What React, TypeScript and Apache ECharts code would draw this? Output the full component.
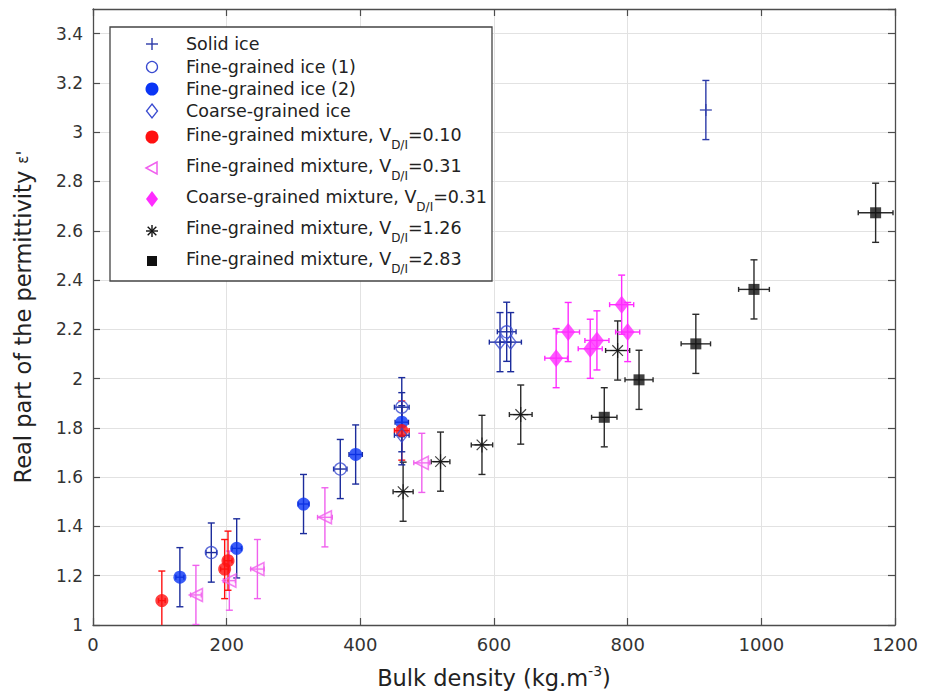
import { useEffect, useRef } from 'react';
import * as echarts from 'echarts';

const FONT = '"DejaVu Sans", sans-serif';

// Axis ranges / ticks
const X_MIN = 0;
const X_MAX = 1200;
const X_STEP = 200;
const Y_MIN = 1;
const Y_MAX = 3.5;
const Y_STEP = 0.2;

// ---- Data (bulk density kg/m3, permittivity, errors) ----
const solidIceX = [917];
const solidIceY = [3.09];
const solidIceEy = [0.12];
const solidIceEx = [0];

const fineIce1X = [177, 370, 462, 619];
const fineIce1Y = [1.294, 1.633, 1.884, 2.19];
const fineIce1Ey = [0.12, 0.12, 0.12, 0.12];
const fineIce1Ex = [8, 10, 11, 14];

const fineIce2X = [130, 215, 315, 393, 462];
const fineIce2Y = [1.194, 1.311, 1.491, 1.692, 1.823];
const fineIce2Ey = [0.12, 0.12, 0.12, 0.12, 0.12];
const fineIce2Ex = [6, 7, 8, 10, 10];

const coarseIceX = [462, 609, 625];
const coarseIceY = [1.77, 2.148, 2.148];
const coarseIceEy = [0.12, 0.12, 0.12];
const coarseIceEx = [11, 16, 16];

const mix010X = [103, 197, 202, 462];
const mix010Y = [1.099, 1.227, 1.261, 1.789];
const mix010Ey = [0.12, 0.12, 0.12, 0.12];
const mix010Ex = [5, 6, 6, 11];

const mix031X = [154, 204, 246, 347, 492];
const mix031Y = [1.122, 1.18, 1.227, 1.437, 1.658];
const mix031Ey = [0.12, 0.12, 0.12, 0.12, 0.12];
const mix031Ex = [8, 9, 10, 11, 12];

const coarseMix031X = [693, 711, 744, 754, 791, 800];
const coarseMix031Y = [2.083, 2.189, 2.121, 2.155, 2.3, 2.189];
const coarseMix031Ey = [0.12, 0.12, 0.12, 0.12, 0.12, 0.12];
const coarseMix031Ex = [17, 17, 18, 18, 18, 18];

const mix126X = [464, 520, 582, 640, 785];
const mix126Y = [1.541, 1.663, 1.731, 1.854, 2.114];
const mix126Ey = [0.12, 0.12, 0.12, 0.12, 0.12];
const mix126Ex = [15, 14, 16, 17, 18];

const mix283X = [765, 817, 902, 989, 1171];
const mix283Y = [1.843, 1.995, 2.141, 2.362, 2.673];
const mix283Ey = [0.12, 0.12, 0.12, 0.12, 0.12];
const mix283Ex = [19, 21, 22, 23, 26];

const legendLabels = [
  'Solid ice',
  'Fine-grained ice (1)',
  'Fine-grained ice (2)',
  'Coarse-grained ice',
  'Fine-grained mixture, V{sub|D/I}=0.10',
  'Fine-grained mixture, V{sub|D/I}=0.31',
  'Coarse-grained mixture, V{sub|D/I}=0.31',
  'Fine-grained mixture, V{sub|D/I}=1.26',
  'Fine-grained mixture, V{sub|D/I}=2.83',
];

const xTitle = 'Bulk density (kg.m{sup|-3})';
const yTitle = "Real part of the permittivity {e|ε}{p|'}";

// colours
const C_SOLID = '#2b3aa8';
const C_OPEN = '#3a4bd0';
const C_BLUE = '#0a35f5';
const C_BLUE_BAR = '#1c2c9c';
const C_RED = '#ff1010';
const C_PINK = '#f060ee';
const C_MAG = '#ff2cff';
const C_BLACK = '#111111';
const C_BLACK_BAR = '#2a2a2a';

function errorSeries(xs: number[], ys: number[], ey: number[], ex: number[], color: string) {
  return {
    type: 'custom',
    silent: true,
    clip: true,
    z: 2,
    encode: { x: 0, y: 1 },
    data: xs.map((x, i) => [x, ys[i], ey[i], ex[i]]),
    renderItem: (_params: any, api: any) => {
      const x = api.value(0);
      const y = api.value(1);
      const dy = api.value(2);
      const dx = api.value(3);
      const style = { stroke: color, lineWidth: 1.4 };
      const children: any[] = [];
      if (dy > 0) {
        const t = api.coord([x, y + dy]);
        const b = api.coord([x, y - dy]);
        children.push({ type: 'line', shape: { x1: t[0], y1: t[1], x2: b[0], y2: b[1] }, style });
        children.push({ type: 'line', shape: { x1: t[0] - 3.5, y1: t[1], x2: t[0] + 3.5, y2: t[1] }, style });
        children.push({ type: 'line', shape: { x1: b[0] - 3.5, y1: b[1], x2: b[0] + 3.5, y2: b[1] }, style });
      }
      if (dx > 0) {
        const l = api.coord([x - dx, y]);
        const r = api.coord([x + dx, y]);
        children.push({ type: 'line', shape: { x1: l[0], y1: l[1], x2: r[0], y2: r[1] }, style });
        children.push({ type: 'line', shape: { x1: l[0], y1: l[1] - 2.5, x2: l[0], y2: l[1] + 2.5 }, style });
        children.push({ type: 'line', shape: { x1: r[0], y1: r[1] - 2.5, x2: r[0], y2: r[1] + 2.5 }, style });
      }
      return { type: 'group', children };
    },
  };
}

function scatterSeries(name: string, xs: number[], ys: number[], symbol: string, size: any, itemStyle: any, rotate = 0) {
  return {
    type: 'scatter',
    name,
    silent: true,
    z: 3,
    symbol,
    symbolSize: size,
    symbolRotate: rotate,
    itemStyle,
    emphasis: { disabled: true },
    data: xs.map((x, i) => [x, ys[i]]),
  };
}

const PLUS = 'path://M0,-10L0,10M-10,0L10,0';
const STAR = 'path://M0,-10L0,10M-10,0L10,0M-7.07,-7.07L7.07,7.07M-7.07,7.07L7.07,-7.07';

function legendGraphic() {
  const LX = 110, LY = 27, LW = 382, LH = 254;
  const mx = 152;
  const tx = 186;
  const rowY = [44, 67, 89, 111, 135, 166, 197, 228, 259];
  const mOff = [0, 0, 0, 0, 2, 2, 2, 3, 2];
  const Z = 100;
  const line = (x1: number, y1: number, x2: number, y2: number, c: string) => ({
    type: 'line', z: Z + 1, shape: { x1, y1, x2, y2 }, style: { stroke: c, lineWidth: 1.4 },
  });
  const markers = (i: number, y: number): any[] => {
    switch (i) {
      case 0: return [line(mx - 6, y, mx + 6, y, C_SOLID), line(mx, y - 6, mx, y + 6, C_SOLID)];
      case 1: return [{ type: 'circle', z: Z + 1, shape: { cx: mx, cy: y, r: 5.5 }, style: { fill: 'none', stroke: C_OPEN, lineWidth: 1.3 } }];
      case 2: return [{ type: 'circle', z: Z + 1, shape: { cx: mx, cy: y, r: 6.5 }, style: { fill: C_BLUE } }];
      case 3: return [{ type: 'polygon', z: Z + 1, shape: { points: [[mx, y - 7], [mx + 5.5, y], [mx, y + 7], [mx - 5.5, y]] }, style: { fill: 'none', stroke: C_OPEN, lineWidth: 1.3 } }];
      case 4: return [{ type: 'circle', z: Z + 1, shape: { cx: mx, cy: y, r: 6.5 }, style: { fill: C_RED } }];
      case 5: return [{ type: 'polygon', z: Z + 1, shape: { points: [[mx - 6, y], [mx + 5, y - 6], [mx + 5, y + 6]] }, style: { fill: 'none', stroke: C_PINK, lineWidth: 1.5 } }];
      case 6: return [{ type: 'polygon', z: Z + 1, shape: { points: [[mx, y - 8], [mx + 6, y], [mx, y + 8], [mx - 6, y]] }, style: { fill: C_MAG } }];
      case 7: return [
        line(mx - 6, y, mx + 6, y, C_BLACK), line(mx, y - 6, mx, y + 6, C_BLACK),
        line(mx - 4.3, y - 4.3, mx + 4.3, y + 4.3, C_BLACK), line(mx - 4.3, y + 4.3, mx + 4.3, y - 4.3, C_BLACK),
      ];
      default: return [{ type: 'rect', z: Z + 1, shape: { x: mx - 5, y: y - 5, width: 10, height: 10 }, style: { fill: C_BLACK } }];
    }
  };
  const els: any[] = [
    { type: 'rect', z: Z, shape: { x: LX, y: LY, width: LW, height: LH }, style: { fill: '#ffffff', stroke: '#444', lineWidth: 1.3 } },
  ];
  legendLabels.forEach((label, i) => {
    els.push(...markers(i, rowY[i] + mOff[i]));
    els.push({
      type: 'text',
      z: Z + 1,
      x: tx,
      y: rowY[i],
      style: {
        text: label,
        fontSize: 17.5,
        fontFamily: FONT,
        fill: '#222',
        align: 'left',
        verticalAlign: 'middle',
        lineHeight: 21,
        rich: { sub: { fontSize: 12, lineHeight: 13, padding: [19, 0, 0, 0], fontFamily: FONT, fill: '#222' } },
      },
    });
  });
  return els;
}

export default function App() {
  const ref = useRef<HTMLDivElement>(null);
  useEffect(() => {
    if (!ref.current) return;
    const chart = echarts.init(ref.current, undefined, { renderer: 'svg' });
    const axisLine = { show: true, onZero: false, lineStyle: { color: '#4d4d4d', width: 1.3 } };
    const axisTick = { show: true, inside: true, length: 7, lineStyle: { color: '#4d4d4d', width: 1.2 } };
    chart.setOption({
      animation: false,
      backgroundColor: '#fff',
      grid: { left: 93, right: 30, top: 9, bottom: 69, containLabel: false },
      xAxis: [
        {
          type: 'value', min: X_MIN, max: X_MAX, interval: X_STEP, position: 'bottom',
          axisLine, axisTick,
          axisLabel: { color: '#333', fontSize: 18, fontFamily: FONT, margin: 10, formatter: (v: number) => String(v) },
          splitLine: { show: true, lineStyle: { color: '#e2e2e2', width: 1 } },
          name: xTitle, nameLocation: 'middle', nameGap: 41,
          nameTextStyle: {
            color: '#222', fontSize: 22.5, fontFamily: FONT,
            rich: { sup: { fontSize: 14, lineHeight: 15, padding: [0, 0, 13, 0], fontFamily: FONT, color: '#222' } },
          },
        },
        {
          type: 'value', min: X_MIN, max: X_MAX, interval: X_STEP, position: 'top',
          axisLine, axisTick, axisLabel: { show: false }, splitLine: { show: false },
        },
      ],
      yAxis: [
        {
          type: 'value', min: Y_MIN, max: Y_MAX, interval: Y_STEP, position: 'left',
          axisLine, axisTick,
          axisLabel: { color: '#333', fontSize: 17, fontFamily: FONT, margin: 10, showMaxLabel: false },
          splitLine: { show: true, lineStyle: { color: '#e2e2e2', width: 1 } },
          name: yTitle, nameLocation: 'middle', nameGap: 59, nameRotate: 90,
          nameTextStyle: {
            color: '#222', fontSize: 22.5, fontFamily: FONT,
            rich: {
              e: { fontSize: 15, fontFamily: FONT, color: '#222' },
              p: { fontSize: 18, fontFamily: FONT, color: '#222' },
            },
          },
        },
        {
          type: 'value', min: Y_MIN, max: Y_MAX, interval: Y_STEP, position: 'right',
          axisLine, axisTick, axisLabel: { show: false }, splitLine: { show: false },
        },
      ],
      series: [
        errorSeries(solidIceX, solidIceY, solidIceEy, solidIceEx, C_SOLID),
        errorSeries(mix283X, mix283Y, mix283Ey, mix283Ex, C_BLACK_BAR),
        errorSeries(mix126X, mix126Y, mix126Ey, mix126Ex, C_BLACK_BAR),
        errorSeries(coarseMix031X, coarseMix031Y, coarseMix031Ey, coarseMix031Ex, C_MAG),
        errorSeries(mix031X, mix031Y, mix031Ey, mix031Ex, C_PINK),
        errorSeries(mix010X, mix010Y, mix010Ey, mix010Ex, C_RED),
        errorSeries(coarseIceX, coarseIceY, coarseIceEy, coarseIceEx, C_BLUE_BAR),
        errorSeries(fineIce2X, fineIce2Y, fineIce2Ey, fineIce2Ex, C_BLUE_BAR),
        errorSeries(fineIce1X, fineIce1Y, fineIce1Ey, fineIce1Ex, C_BLUE_BAR),
        scatterSeries('Solid ice', solidIceX, solidIceY, PLUS, 12, { color: 'transparent', borderColor: C_SOLID, borderWidth: 1.4 }),
        scatterSeries('Fine-grained mixture, 2.83', mix283X, mix283Y, 'rect', 11, { color: C_BLACK }),
        scatterSeries('Fine-grained mixture, 1.26', mix126X, mix126Y, STAR, 15, { color: 'transparent', borderColor: C_BLACK, borderWidth: 1.2 }),
        scatterSeries('Coarse-grained mixture', coarseMix031X, coarseMix031Y, 'diamond', [14, 18], { color: C_MAG }),
        scatterSeries('Fine-grained mixture, 0.31', mix031X, mix031Y, 'triangle', 13, { color: 'rgba(255,180,250,0.25)', borderColor: C_PINK, borderWidth: 1.6 }, 90),
        scatterSeries('Fine-grained ice (2)', fineIce2X, fineIce2Y, 'circle', 13, { color: C_BLUE }),
        scatterSeries('Fine-grained mixture, 0.10', mix010X, mix010Y, 'circle', 13, { color: C_RED }),
        scatterSeries('Coarse-grained ice', coarseIceX, coarseIceY, 'diamond', [11, 14], { color: 'transparent', borderColor: C_OPEN, borderWidth: 1.3 }),
        scatterSeries('Fine-grained ice (1)', fineIce1X, fineIce1Y, 'circle', 12, { color: 'transparent', borderColor: C_OPEN, borderWidth: 1.3 }),
      ],
      graphic: legendGraphic(),
    });
    return () => chart.dispose();
  }, []);
  return (
    <div
      ref={ref}
      style={{ position: 'fixed', left: 0, top: 0, width: 925, height: 696, background: '#fff' }}
    />
  );
}
